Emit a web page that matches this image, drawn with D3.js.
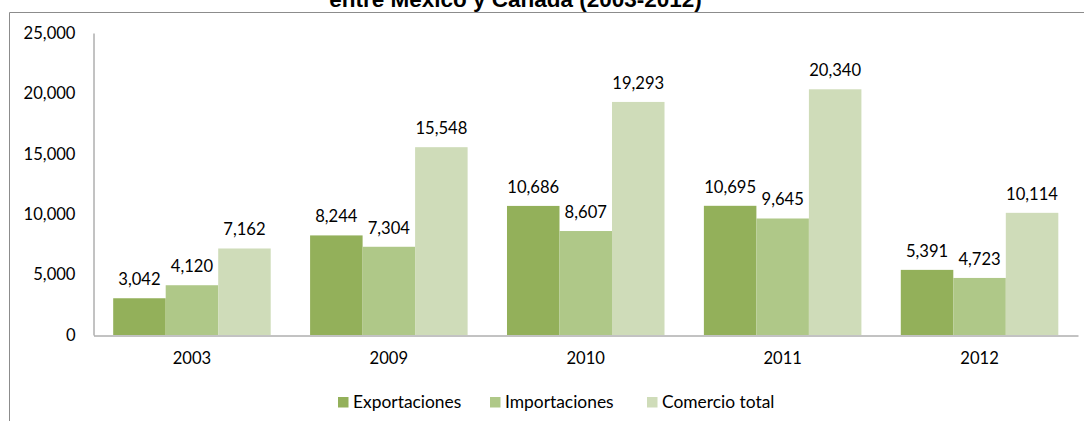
<!DOCTYPE html>
<html>
<head>
<meta charset="utf-8">
<script src="https://d3js.org/d3.v7.min.js"></script>
<style>
  body { margin: 0; background: #fff; }
  svg text { font-family: Lato, "Open Sans", sans-serif; fill: #000; }
</style>
</head>
<body>
<div id="chart"></div>
<script>
// values
const years = ["2003", "2009", "2010", "2011", "2012"];
const seriesNames = ["Exportaciones", "Importaciones", "Comercio total"];
const exportaciones = [3042, 8244, 10686, 10695, 5391];
const importaciones = [4120, 7304, 8607, 9645, 4723];
const comercioTotal = [7162, 15548, 19293, 20340, 10114];
const yTicks = [0, 5000, 10000, 15000, 20000, 25000];

const colors = ["#93b05a", "#afc888", "#cfdcb9"];
const seriesValues = [exportaciones, importaciones, comercioTotal];

const width = 1084, height = 421;
const fontSize = "16.6px";
const svg = d3.select("#chart").append("svg")
    .attr("width", width)
    .attr("height", height);

// chart frame (only left and top edges are in view)
svg.append("path")
    .attr("d", "M9.5,421 V12.5 H1084")
    .attr("fill", "none")
    .attr("stroke", "#8c8c8c")
    .attr("stroke-width", 1);

// title, cut off at the top like in the source image
svg.append("text")
    .attr("x", 515.5)
    .attr("y", 6.5)
    .attr("text-anchor", "middle")
    .style("font-family", "'Liberation Sans', Arial, sans-serif")
    .style("font-weight", "bold")
    .style("font-size", "22.5px")
    .text("entre México y Canadá (2003-2012)");

const x0 = d3.scaleBand()
    .domain(years)
    .range([93.5, 1078])
    .paddingInner(0.2)
    .paddingOuter(0.1);

const x1 = d3.scaleBand()
    .domain(seriesNames)
    .range([0, x0.bandwidth()]);

const y = d3.scaleLinear()
    .domain([0, 25000])
    .range([335, 33]);

// bars + labels
const groups = svg.append("g")
    .selectAll("g")
    .data(years)
    .join("g")
    .attr("transform", d => `translate(${x0(d)},0)`);

const fmt = d3.format(",");

groups.each(function(year, i) {
    const g = d3.select(this);
    const rows = seriesNames.map((s, k) => ({ s, k, v: seriesValues[k][i] }));
    g.selectAll("rect")
        .data(rows)
        .join("rect")
        .attr("x", d => x1(d.s))
        .attr("y", d => y(d.v))
        .attr("width", x1.bandwidth())
        .attr("height", d => y(0) - y(d.v))
        .attr("fill", d => colors[d.k]);
    g.selectAll("text")
        .data(rows)
        .join("text")
        .attr("x", d => x1(d.s) + x1.bandwidth() / 2)
        .attr("y", d => y(d.v) - 13)
        .attr("text-anchor", "middle")
        .style("font-size", fontSize)
        .text(d => fmt(d.v));
});

// y axis
const yAxis = svg.append("g")
    .attr("transform", "translate(93.5,0)")
    .call(d3.axisLeft(y).tickValues(yTicks).tickFormat(fmt).tickSize(0).tickPadding(18));
yAxis.select(".domain").attr("stroke", "#868686");
yAxis.selectAll("text").style("font-size", fontSize).style("font-family", "Lato, sans-serif");

// x axis
const xAxis = svg.append("g")
    .attr("transform", "translate(0,335.5)")
    .call(d3.axisBottom(x0).tickSize(0).tickPadding(17));
xAxis.select(".domain").attr("stroke", "#868686");
xAxis.selectAll("text").style("font-size", fontSize).style("font-family", "Lato, sans-serif");

// legend
const legendX = [338, 490, 647];
const legend = svg.append("g")
    .selectAll("g")
    .data(seriesNames)
    .join("g")
    .attr("transform", (d, i) => `translate(${legendX[i]},397)`);
legend.append("rect")
    .attr("width", 10.5)
    .attr("height", 10.5)
    .attr("fill", (d, i) => colors[i]);
legend.append("text")
    .attr("x", 15)
    .attr("y", 10.5)
    .style("font-size", "17.4px")
    .text(d => d);
</script>
</body>
</html>
